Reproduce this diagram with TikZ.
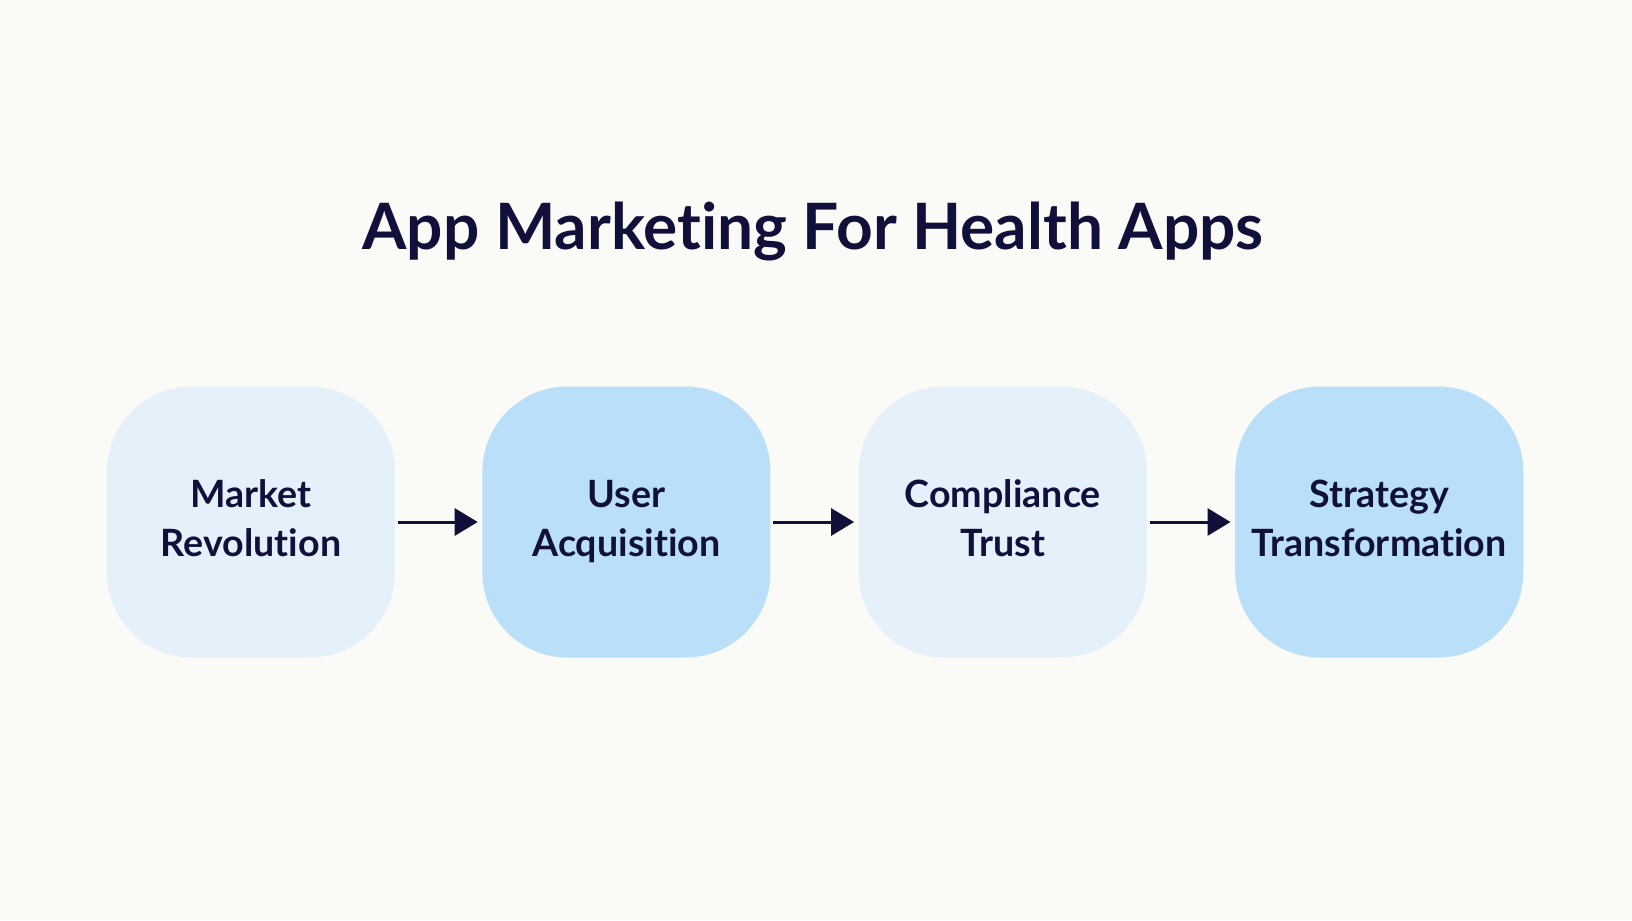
\documentclass[tikz,border=0pt]{standalone}
\usepackage{fontspec}
\setmainfont{Lato}[Ligatures={NoCommon,NoRare}]
\usetikzlibrary{arrows.meta, positioning}
\definecolor{bgpaper}{HTML}{FAFAF7}
\definecolor{inkblue}{HTML}{10103A}
\definecolor{palestep}{HTML}{E4F1FA}
\definecolor{deepstep}{HTML}{BADFF8}
\newcommand{\steplabel}[2]{\strut#1\\\strut#2}
\tikzset{
  stage/.style={rounded corners=0.85cm, minimum width=2.88cm, minimum height=2.71cm,
    inner sep=0pt, align=center, text=inkblue,
    font=\fontsize{10.7}{13.9}\selectfont\bfseries},
  flow/.style={-{Triangle[length=0.23cm,width=0.27cm]}, line width=0.03cm, draw=inkblue,
    shorten <=0.02cm, shorten >=0.04cm}
}
\begin{document}
\begin{tikzpicture}
\fill[bgpaper] (0,0) rectangle (16.32,9.2);
\useasboundingbox (0,0) rectangle (16.32,9.2);
\node[anchor=base, text=inkblue, font=\fontsize{18.2}{22}\selectfont\bfseries] (title) at (8.13,6.71) {App Marketing For Health Apps};
\node[stage, fill=palestep] (market) at (2.51,3.98) {\steplabel{Market}{Revolution}};
\node[stage, fill=deepstep, right=0.86cm of market] (user) {\steplabel{User}{Acquisition}};
\node[stage, fill=palestep, right=0.87cm of user] (trust) {\steplabel{Compliance}{Trust}};
\node[stage, fill=deepstep, right=0.87cm of trust] (strategy) {\steplabel{Strategy}{Transformation}};
\draw[flow] (market) -- (user);
\draw[flow] (user) -- (trust);
\draw[flow] (trust) -- (strategy);
\end{tikzpicture}
\end{document}
